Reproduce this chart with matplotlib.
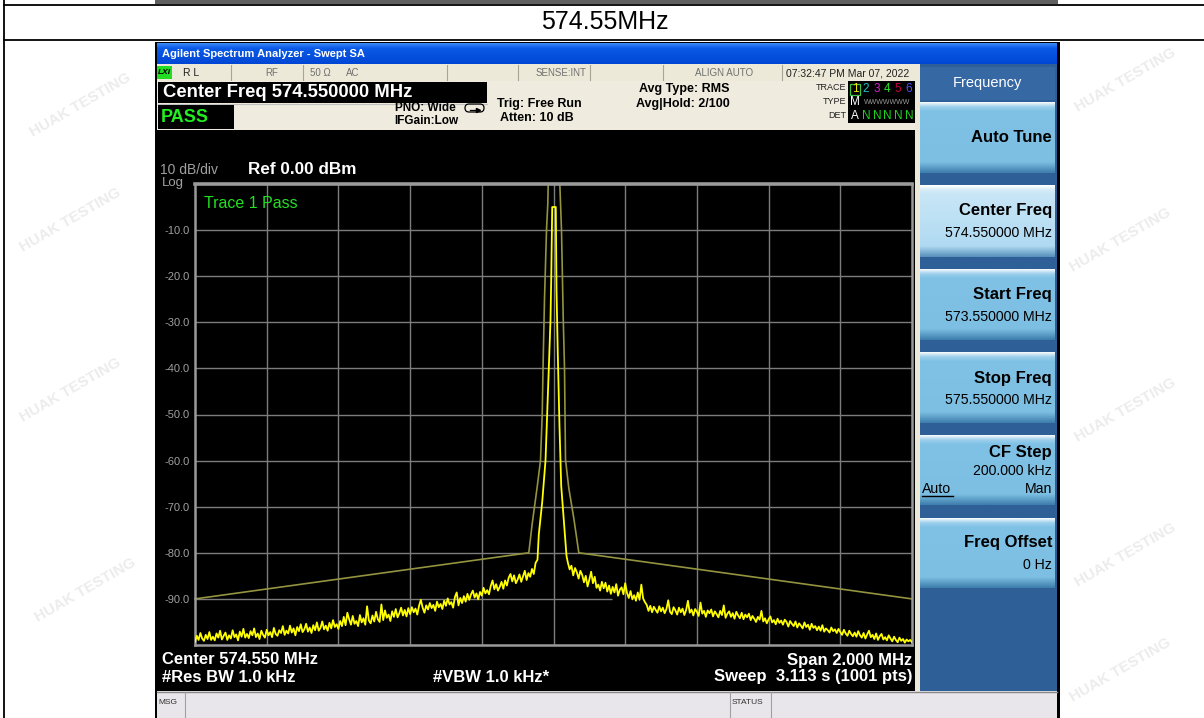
import numpy as np
import matplotlib
matplotlib.use("Agg")
import matplotlib.pyplot as plt
from matplotlib.patches import Rectangle, FancyBboxPatch
from matplotlib.colors import to_rgb

plt.rcParams['font.family'] = ['Liberation Sans', 'DejaVu Sans']

# ---- data ----
start_mhz, stop_mhz = 573.55, 575.55
ytick_db = [-10, -20, -30, -40, -50, -60, -70, -80, -90]

# measured trace, left skirt (573.55 .. 574.50 MHz, 5 kHz apart)
left_db = [-99.3, -98.0, -98.9, -97.4, -98.6, -99.1, -97.8, -98.7, -97.2, -98.9,
           -98.2, -99.0, -97.5, -98.4, -96.9, -98.8, -98.0, -97.3, -98.9, -97.9,
           -98.6, -96.8, -98.3, -97.7, -99.0, -97.1, -98.2, -96.5, -98.4, -97.6,
           -98.5, -97.0, -97.9, -96.4, -98.3, -97.5, -98.7, -96.9, -97.8, -98.4,
           -96.7, -97.9, -97.2, -98.3, -96.3, -97.6, -98.0, -96.8, -97.4, -95.9,
           -97.8, -96.9, -97.5, -95.8, -97.3, -96.4, -97.9, -96.1, -97.0, -95.5,
           -97.2, -96.6, -95.4, -97.1, -96.2, -97.4, -95.7, -96.8, -95.1, -96.9,
           -96.3, -94.9, -96.6, -95.8, -96.9, -95.2, -96.4, -94.6, -96.1, -95.5,
           -96.5, -94.8, -95.9, -93.9, -95.7, -93.0, -94.4, -95.6, -93.7, -95.4,
           -94.8, -95.9, -93.5, -95.1, -94.2, -95.6, -91.6, -94.7, -95.3, -93.6,
           -94.9, -92.8, -94.4, -95.0, -91.2, -94.6, -92.5, -94.1, -93.4, -94.8,
           -92.7, -93.9, -92.2, -94.0, -93.1, -91.9, -93.6, -92.4, -93.8, -92.0,
           -93.3, -91.8, -92.9, -92.1, -93.4, -91.5, -90.2, -91.9, -93.0, -91.4,
           -92.3, -90.9, -92.0, -91.3, -92.6, -90.6, -91.8, -91.1, -92.2, -90.4,
           -91.5, -89.9, -91.2, -90.7, -91.9, -89.6, -88.6, -91.4, -89.8, -90.9,
           -89.4, -90.6, -88.9, -90.2, -89.0, -88.2, -89.7, -88.8, -90.1, -88.5,
           -89.3, -87.6, -88.8, -88.1, -89.0, -87.2, -86.0, -87.9, -86.8, -88.2,
           -87.4, -86.3, -87.8, -86.0, -87.1, -85.4, -84.6, -86.2, -84.9, -86.6,
           -85.8, -84.7, -86.3, -85.1, -83.9, -85.9, -84.4, -85.2, -83.5, -84.6,
           -82.2]
# carrier
peak_freq = [574.5053, 574.509, 574.5185, 574.5277, 574.5324, 574.5369, 574.5416, 574.5436,
             574.5464, 574.5564, 574.5584, 574.562, 574.5667, 574.5715, 574.5787, 574.5863]
peak_db = [-81.5, -76, -69, -60, -50, -40, -29.5, -21,
           -5, -5, -23, -37, -52.6, -65.5, -73, -80.7]
# right skirt (574.59 .. 575.55 MHz, 5 kHz apart)
right_db = [-82.1, -83.6, -82.8, -84.9, -83.3, -84.2, -85.6, -83.9, -84.8, -86.4,
            -85.0, -87.3, -85.8, -84.1, -86.6, -85.2, -87.6, -86.9, -88.2, -86.3,
            -87.7, -86.5, -88.4, -87.1, -88.9, -87.4, -88.6, -86.8, -89.3, -88.0,
            -87.5, -89.0, -86.6, -88.7, -89.8, -88.3, -90.1, -89.2, -90.4, -88.6,
            -90.2, -86.9, -89.9, -90.7, -91.3, -92.6, -91.5, -92.9, -91.7, -92.4,
            -93.0, -91.6, -92.7, -91.9, -93.1, -92.2, -90.3, -92.8, -93.3, -91.8,
            -92.5, -93.4, -91.9, -92.9, -92.1, -93.5, -92.4, -90.4, -93.0, -92.3,
            -93.6, -92.2, -92.8, -93.7, -90.8, -93.2, -92.6, -93.9, -92.5, -93.1,
            -92.3, -93.8, -92.7, -93.3, -94.0, -92.6, -93.5, -91.4, -94.1, -93.2,
            -92.7, -93.9, -93.1, -94.3, -92.8, -93.6, -94.2, -93.0, -94.4, -93.4,
            -94.0, -93.2, -94.6, -93.7, -94.3, -95.0, -93.9, -94.5, -92.6, -94.9,
            -94.2, -95.3, -94.4, -93.8, -95.1, -94.6, -95.5, -94.3, -95.2, -94.7,
            -95.6, -94.5, -95.0, -96.0, -94.8, -95.4, -95.9, -94.9, -96.2, -95.3,
            -95.8, -96.4, -95.1, -96.1, -95.6, -96.7, -95.4, -96.3, -95.9, -96.8,
            -96.0, -96.9, -95.7, -97.1, -96.4, -96.8, -97.3, -96.2, -97.0, -96.6,
            -97.4, -96.5, -97.2, -97.8, -96.7, -97.5, -98.0, -96.9, -97.6, -98.1,
            -97.3, -98.2, -97.0, -97.9, -98.4, -97.4, -98.6, -97.7, -96.9, -98.3,
            -97.8, -98.7, -97.5, -98.9, -98.1, -97.6, -98.8, -98.3, -99.0, -97.9,
            -98.6, -99.2, -98.2, -98.9, -99.4, -98.4, -99.1, -98.7, -99.5, -98.8,
            -99.2, -98.9, -99.4]

# limit mask
limit_freq = [573.55, 574.4811, 574.4906, 574.5045, 574.5137, 574.5185, 574.5213, 574.5249,
              574.5305, 574.5341, 574.5352, 574.5676, 574.5723, 574.5771, 574.5807, 574.5835,
              574.5927, 574.6066, 574.6206, 575.55]
limit_db = [-90, -80, -73.7, -65.7, -60, -50, -38, -25,
            -10, -4.3, 0, 0, -10, -29, -40, -59.8,
            -66, -72.5, -80, -90]

W, H = 1204, 718
fig = plt.figure(figsize=(W / 100, H / 100), dpi=100)
bg = fig.add_axes([0, 0, 1, 1])
bg.set_xlim(0, W)
bg.set_ylim(H, 0)
bg.axis('off')


def box(x0, y0, x1, y1, fc, ec='none', lw=0, z=2):
    bg.add_patch(Rectangle((x0, y0), x1 - x0, y1 - y0, fc=fc, ec=ec, lw=lw, zorder=z))


def grad(x0, y0, x1, y1, stops, z=2):
    pos = [p for p, _ in stops]
    cols = np.array([to_rgb(c) for _, c in stops])
    t = np.linspace(0, 1, 64)
    img = np.stack([np.interp(t, pos, cols[:, k]) for k in range(3)], axis=1)[:, None, :]
    bg.imshow(img, extent=(x0, x1, y1, y0), aspect='auto', interpolation='bilinear', zorder=z)


def txt(x, y, s, size=8, color='black', ha='left', weight='normal', z=5, **kw):
    bg.text(x, y, s, fontsize=size, color=color, ha=ha, va='center', fontweight=weight, zorder=z, **kw)


# faint watermarks
for wx, wy in [(80, 105), (70, 220), (70, 390), (85, 590), (1125, 80), (1120, 240),
               (1125, 410), (1125, 555), (1120, 670)]:
    bg.text(wx, wy, 'HUAK TESTING', rotation=30, fontsize=11, fontweight='bold',
            color='#ececec', ha='center', va='center', zorder=1)

# table frame
box(155, 0, 1058, 4, '#606060')
for yy in (5, 40):
    bg.plot([4, W], [yy, yy], color='black', lw=1.3, zorder=3)
bg.plot([4, 4], [0, H], color='black', lw=1.3, zorder=3)
txt(605, 22, '574.55MHz', size=18, ha='center')

# instrument window
box(155, 42, 1060, H, 'black')
grad(157, 43, 1057, 64, [(0, '#3d8af7'), (0.25, '#0a5ae6'), (1, '#0046d5')])
txt(162, 54, 'Agilent Spectrum Analyzer - Swept SA', size=8, color='white', weight='bold')

# status row
box(157, 64, 916, 81, '#ece9d8')
for sx in (231, 303, 447, 518, 590, 663, 782):
    bg.plot([sx, sx], [65, 80], color='#a8a498', lw=0.8, zorder=3)
box(157, 66, 172, 79, '#22dd22', z=3)
txt(158, 72.5, 'LXI', size=6, weight='bold', style='italic')
txt(183, 73, 'R L', size=7.5, color='#202020')
txt(265, 73, 'RF', size=7, color='#707070')
txt(310, 73, '50 \u03a9', size=7, color='#707070')
txt(346, 73, 'AC', size=7, color='#707070')
txt(536, 73, 'SENSE:INT', size=7, color='#707070')
txt(695, 73, 'ALIGN AUTO', size=7, color='#707070')
txt(786, 73, '07:32:47 PM Mar 07, 2022', size=7.5, color='#202020')

# info area
box(157, 81, 916, 130, '#efebde')
box(158, 82, 487, 103, 'black', z=3)
txt(163, 92.5, 'Center Freq 574.550000 MHz', size=13.3, color='white', weight='bold')
bg.plot([158, 487], [104, 104], color='#c0c0c0', lw=0.8, zorder=3)
box(158, 105, 234, 129, 'black', z=3)
txt(161, 117, 'PASS', size=13, color='#22ee22', weight='bold')
txt(456, 108, 'PNO: Wide', size=8.5, ha='right', weight='bold')
txt(458, 121, 'IFGain:Low', size=8.5, ha='right', weight='bold')
bg.add_patch(FancyBboxPatch((465, 104), 19, 8, boxstyle='round,pad=0,rounding_size=4',
                            fill=False, ec='black', lw=0.9, zorder=4))
bg.plot([470, 478], [110, 110], color='black', lw=0.9, zorder=4)
bg.plot([478], [110], marker='>', ms=3, color='black', zorder=4)
txt(497, 104, 'Trig: Free Run', size=9, weight='bold')
txt(500, 118, 'Atten: 10 dB', size=9, weight='bold')
txt(639, 89, 'Avg Type: RMS', size=9, weight='bold')
txt(636, 104, 'Avg|Hold: 2/100', size=9, weight='bold')
txt(846, 88, 'TRACE', size=6.5, ha='right', color='#202020')
txt(846, 102, 'TYPE', size=6.5, ha='right', color='#202020')
txt(846, 116, 'DET', size=6.5, ha='right', color='#202020')
box(848, 81, 915, 123, 'black', z=3)
bg.add_patch(Rectangle((850, 84), 10, 11, fc='none', ec='#40c040', lw=0.9, zorder=4))
for tx, num, col in [(855, '1', '#e8e800'), (866, '2', '#20c0c0'), (877, '3', '#d020d0'),
                     (887, '4', '#30e030'), (898, '5', '#c00040'), (909, '6', '#5050ff')]:
    txt(tx, 89, num, size=8.5, color=col, ha='center')
txt(855, 102, 'M', size=8.5, color='white', ha='center')
txt(887, 102, 'WWWWWWW', size=5, color='#9a9a9a', ha='center')
txt(855, 116, 'A', size=8.5, color='white', ha='center')
for tx in (866, 877, 887, 898, 909):
    txt(tx, 116, 'N', size=8.5, color='#20d020', ha='center')

# graticule surroundings
box(915, 64, 920, 691, '#ece9d8')
txt(160, 170, '10 dB/div', size=10, color='#a0a0a0')
txt(162, 183, 'Log', size=9.5, color='#a0a0a0')
txt(248, 170, 'Ref 0.00 dBm', size=12.3, color='white', weight='bold')
txt(162, 660, 'Center 574.550 MHz', size=12, color='white', weight='bold')
txt(162, 677, '#Res BW 1.0 kHz', size=12, color='white', weight='bold')
txt(433, 677, '#VBW 1.0 kHz*', size=12, color='white', weight='bold')
txt(912, 660, 'Span 2.000 MHz', size=12, color='white', weight='bold', ha='right')
txt(912, 677, 'Sweep  3.113 s (1001 pts)', size=12, color='white', weight='bold', ha='right')

# bottom status bar
box(157, 691, 1057, H, '#e8e6ea')
bg.plot([157, 1057], [691.5, 691.5], color='#888888', lw=1, zorder=3)
for sx in (185, 730, 771):
    bg.plot([sx, sx], [692, H], color='#a0a0a0', lw=0.8, zorder=3)
txt(158, 703, 'MSG', size=6, color='#303030')
txt(732, 703, 'STATUS', size=6, color='#303030')

# softkey panel
box(920, 64, 1057, 691, '#2f5f97')
box(920, 67, 1055, 100, '#3668a4', z=3)
txt(987, 83, 'Frequency', size=10.5, color='white', ha='center')
normal = [(0, '#f0f8fc'), (0.06, '#9ed0ec'), (0.12, '#80c2e6'), (0.85, '#7cbfe2'), (1, '#3f7fae')]
selected = [(0, '#ffffff'), (0.06, '#d4ecf8'), (0.12, '#c8e6f6'), (0.85, '#b0daf2'), (1, '#5a93bd')]
keys = [(102, 173, normal), (185, 257, selected), (269, 340, normal),
        (352, 423, normal), (435, 505, normal), (518, 588, normal)]
for y0, y1, stops in keys:
    grad(920, y0, 1055, y1, stops, z=3)
txt(1052, 138, 'Auto Tune', size=12, ha='right', weight='bold')
txt(1052, 211, 'Center Freq', size=12, ha='right', weight='bold')
txt(1052, 233, '574.550000 MHz', size=10.2, ha='right')
txt(1052, 295, 'Start Freq', size=12, ha='right', weight='bold')
txt(1052, 317, '573.550000 MHz', size=10.2, ha='right')
txt(1052, 378, 'Stop Freq', size=12, ha='right', weight='bold')
txt(1052, 400, '575.550000 MHz', size=10.2, ha='right')
txt(1052, 453, 'CF Step', size=12, ha='right', weight='bold')
txt(1052, 471, '200.000 kHz', size=10.2, ha='right')
txt(922, 489, 'Auto', size=10.2)
bg.plot([922, 953], [496, 496], color='black', lw=1, zorder=5)
txt(1052, 489, 'Man', size=10.2, ha='right')
txt(1052, 543, 'Freq Offset', size=12, ha='right', weight='bold')
txt(1052, 565, '0 Hz', size=10.2, ha='right')

# ---- the spectrum ----
ax = fig.add_axes([195 / W, 1 - 645 / H, 717 / W, 461 / H])
ax.set_facecolor('none')
ax.set_xlim(start_mhz, stop_mhz)
ax.set_ylim(-100, 0)
grid_f = np.linspace(start_mhz, stop_mhz, 11)
for gf in grid_f[1:-1]:
    ax.axvline(gf, color='#7c7c7c', lw=1, zorder=1)
for gy in ytick_db[:-1]:
    ax.axhline(gy, color='#7c7c7c', lw=1, zorder=1)
ax.hlines(-90, start_mhz, 574.712, color='#7c7c7c', lw=1, zorder=1)
for side in ax.spines.values():
    side.set_color('#9a9a9a')
    side.set_linewidth(1.8)
ax.spines['top'].set_linewidth(2.6)
ax.set_xticks([])
ax.set_yticks(ytick_db)
ax.set_yticklabels([f'{v:.1f}' for v in ytick_db], color='#a0a0a0', fontsize=8)
ax.tick_params(axis='y', length=0, pad=4)

left_f = np.linspace(573.55, 574.50, len(left_db))
right_f = np.linspace(574.59, 575.55, len(right_db))
trace_f = np.concatenate([left_f, peak_freq, right_f])
trace_db = np.concatenate([left_db, peak_db, right_db])

ax.plot(limit_freq, limit_db, color='#939340', lw=1.2, zorder=2, clip_on=False)
ax.plot(trace_f, trace_db, color='#ffff00', lw=1.3, zorder=3)
ax.text(0.012, 0.975, 'Trace 1 Pass', transform=ax.transAxes, color='#22e022',
        fontsize=11.5, ha='left', va='top')

fig.savefig('out.png', dpi=100)
